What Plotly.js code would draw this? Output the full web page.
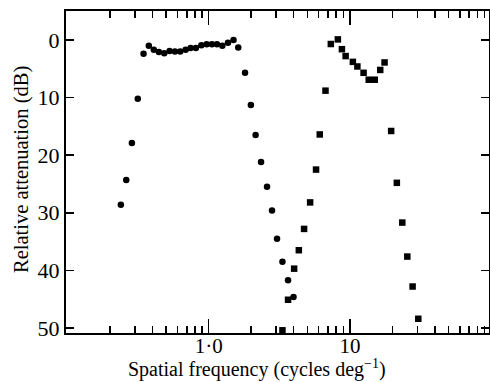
<!DOCTYPE html>
<html><head><meta charset="utf-8">
<script src="https://cdn.plot.ly/plotly-3.0.1.min.js"></script>
<style>html,body{margin:0;padding:0;background:#fff}#c{width:490px;height:382px}</style>
</head><body><div id="c"></div>
<script>
// Circles: spatial frequency (cycles/deg) and relative attenuation (dB)
const circleFreq = [0.239,0.261,0.286,0.315,0.346,0.377,0.409,0.444,0.485,0.529,0.577,0.629,0.687,0.745,0.812,0.888,0.968,1.055,1.145,1.25,1.37,1.50,1.62,1.81,1.99,2.15,2.35,2.59,2.81,3.05,3.33,3.65,3.99];
const circleAtten = [28.6,24.3,17.9,10.2,2.4,1.0,1.7,2.1,2.3,1.9,2.0,2.0,1.7,1.4,1.4,0.9,0.75,0.75,0.75,1.0,0.5,0.0,1.3,5.7,11.3,16.5,21.2,25.5,29.6,34.5,38.5,41.7,44.6];
// Squares
const squareFreq = [3.33,3.65,4.03,4.35,4.74,5.23,5.76,6.12,6.72,7.33,8.22,8.78,9.33,10.5,11.3,12.5,13.6,15.0,16.4,17.6,19.6,21.5,23.5,25.5,27.8,30.5];
const squareAtten = [50.4,45.1,39.7,36.5,32.8,28.2,22.5,16.4,8.8,0.7,-0.1,1.6,2.8,3.8,4.6,5.7,6.9,6.9,5.2,3.9,15.8,24.8,31.7,37.6,42.8,48.4];
// Axis ticks
const xMajorVals = [1, 10];
const xMajorText = ["1·0", "10"];
const xMinorVals = [0.2,0.3,0.4,0.5,0.6,0.7,0.8,0.9,2,3,4,5,6,7,8,9,20,30,40,50,60,70,80,90];
const yTickVals = [0,10,20,30,40,50];

const font = {family: "Liberation Serif, Times New Roman, serif", color: "#000"};

const traces = [
  {x: circleFreq, y: circleAtten, mode: "markers", type: "scatter",
   marker: {symbol: "circle", size: 6.5, color: "#000"}, cliponaxis: false},
  {x: squareFreq, y: squareAtten, mode: "markers", type: "scatter",
   marker: {symbol: "square", size: 6.5, color: "#000"}, cliponaxis: false}
];

const layout = {
  width: 490, height: 382,
  margin: {l: 66, r: 1, t: 11, b: 49},
  paper_bgcolor: "#fff", plot_bgcolor: "#fff",
  showlegend: false,
  font: Object.assign({size: 18}, font),
  xaxis: {
    type: "log", range: [-1.01, 1.985],
    tickmode: "array", tickvals: xMajorVals, ticktext: xMajorText,
    ticks: "inside", ticklen: 14, tickwidth: 1.5, tickcolor: "#000",
    minor: {tickmode: "array", tickvals: xMinorVals, ticks: "inside", ticklen: 7, tickwidth: 1.5, tickcolor: "#000", showgrid: false},
    showline: true, linecolor: "#000", linewidth: 2, mirror: "allticks",
    showgrid: false, zeroline: false,
    tickfont: Object.assign({size: 21}, font),
    ticklabelstandoff: -7
  },
  yaxis: {
    range: [50.87, -5.03],
    tickmode: "array", tickvals: yTickVals,
    ticks: "inside", ticklen: 8, tickwidth: 1.5, tickcolor: "#000",
    showline: true, linecolor: "#000", linewidth: 2, mirror: "allticks",
    showgrid: false, zeroline: false,
    tickfont: Object.assign({size: 22}, font),
    ticklabelstandoff: 0
  },
  annotations: [
    {text: "Spatial frequency (cycles deg<sup>−1</sup>)", xref: "paper", yref: "paper",
     x: (257 - 66) / 423, y: -(383 - 333) / 322, xanchor: "center", yanchor: "bottom",
     showarrow: false, font: Object.assign({size: 20}, font)},
    {text: "Relative attenuation (dB)", xref: "paper", yref: "paper", textangle: -90,
     x: -(66 - 21) / 423, y: (333 - 170) / 322, xanchor: "center", yanchor: "middle",
     showarrow: false, font: Object.assign({size: 20.5}, font)}
  ]
};

Plotly.newPlot("c", traces, layout, {displayModeBar: false, staticPlot: true});
</script></body></html>
